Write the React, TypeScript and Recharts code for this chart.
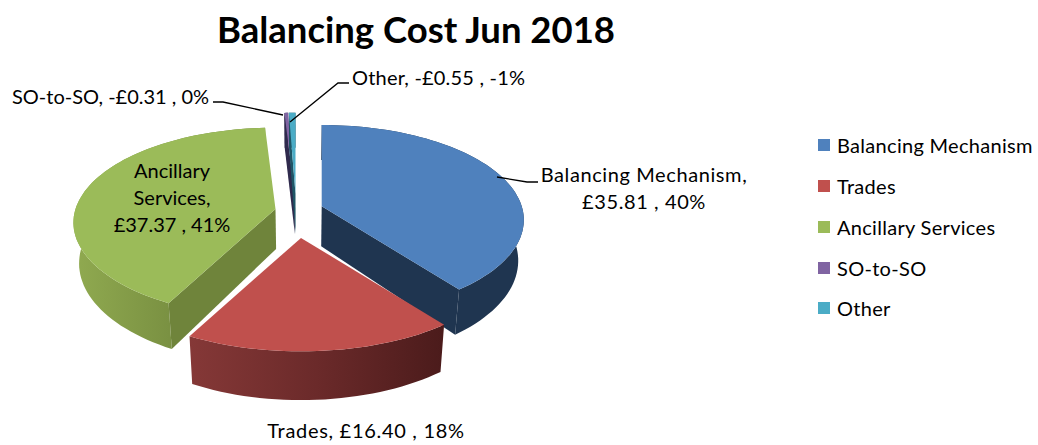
import React from "react";
import { PieChart, Pie, Legend } from "recharts";

const categories = ["Balancing Mechanism", "Trades", "Ancillary Services", "SO-to-SO", "Other"];
const costValues = [35.81, 16.4, 37.37, -0.31, -0.55];
const sharePercents = [40, 18, 41, 0, -1];
const topColors = ["#4f81bd", "#c0504d", "#9bbb59", "#8064a2", "#4bacc6"];
const wallColors = ["#1f3550", "#4d1c1c", "#6f843b", "#2f2a4d", "#1f5566"];
const wallGradients: string[][] = [
  ["#1f3550", "#1f3550", "#1f3550"],
  ["#853837", "#6b2a2a", "#4b1b1b"],
  ["#90aa50", "#7a9142", "#6d823a"],
  ["#2f2a4d", "#2f2a4d", "#2f2a4d"],
  ["#1f5566", "#1f5566", "#1f5566"],
];
const title = "Balancing Cost Jun 2018";

const formatCost = (v: number) => `${v < 0 ? "-" : ""}£${Math.abs(v).toFixed(2)}`;
const tableData = categories.map((name, i) => ({
  name,
  magnitude: Math.abs(costValues[i]),
  fill: topColors[i],
}));

const FONT = "Lato, 'Open Sans', sans-serif";
const CX = 299;
const CY = 214;
const RADIUS = 200;
const SQUASH = 93 / 200;
const PERSPECTIVE = 0.144;
const EXPLODE = 24;
const DEPTH = 40;
const BASE_SHRINK = 0.975;
const sliceNudges: [number, number][] = [[0, 0], [0, 0], [0, 0], [-3, 4], [-3, 4]];

const labelLayouts: { lines: (i: number) => string[]; x: number; y: number; anchor: string; spacing: number; leader?: [number, number][] }[] = [
  {
    lines: (i) => [`${categories[i]},`, `${formatCost(costValues[i])} , ${sharePercents[i]}%`],
    x: 644, y: 182, anchor: "middle", spacing: 0.6,
    leader: [[497, 177], [527, 182], [538, 182]],
  },
  {
    lines: (i) => [`${categories[i]},  ${formatCost(costValues[i])} , ${sharePercents[i]}%`],
    x: 366, y: 438, anchor: "middle", spacing: 0.7,
  },
  {
    lines: (i) => ["Ancillary", "Services,", `${formatCost(costValues[i])} , ${sharePercents[i]}%`],
    x: 172, y: 178, anchor: "middle", spacing: 0,
  },
  {
    lines: (i) => [`${categories[i]}, ${formatCost(costValues[i])} , ${sharePercents[i]}%`],
    x: 12, y: 104, anchor: "start", spacing: 0,
    leader: [[213, 102], [223, 102], [283, 115]],
  },
  {
    lines: (i) => [`${categories[i]}, ${formatCost(costValues[i])} , ${sharePercents[i]}%`],
    x: 352, y: 85, anchor: "start", spacing: 0.2,
    leader: [[349, 83], [338, 83], [290, 122]],
  },
];

const rad = (d: number) => (d * Math.PI) / 180;

function Slice3D(props: any) {
  const { cx, cy, outerRadius, startAngle, endAngle, payload, name } = props;
  const index = categories.indexOf(payload?.name ?? name);
  const t0 = 90 - startAngle;
  const t1 = 90 - endAngle;
  const mid = (t0 + t1) / 2;
  const [nx, ny] = sliceNudges[index];
  const ax = cx + EXPLODE * Math.sin(rad(mid)) + nx;
  const ay = cy - EXPLODE * Math.cos(rad(mid)) + ny;
  const bias = Math.max(0, -0.25 * Math.cos(rad(mid)));
  const top = (t: number, r: number) => {
    const u = r * Math.sin(rad(t));
    const v = -r * Math.cos(rad(t));
    const s = 1 / (1 - PERSPECTIVE * (v + bias));
    return {
      x: ax + outerRadius * u * s,
      y: ay + outerRadius * SQUASH * v * s,
      s,
    };
  };
  const base = (t: number, r: number) => {
    const p = top(t, r);
    return { x: cx + (p.x - cx) * BASE_SHRINK, y: p.y + DEPTH * p.s };
  };
  const steps = Math.max(2, Math.ceil((t1 - t0) / 2));
  const arcTs = Array.from({ length: steps + 1 }, (_, k) => t0 + ((t1 - t0) * k) / steps);
  const toPath = (pts: { x: number; y: number }[]) =>
    pts.map((p, k) => `${k ? "L" : "M"}${p.x.toFixed(1)},${p.y.toFixed(1)}`).join(" ") + " Z";

  const arcWall = toPath([...arcTs.map((t) => top(t, 1)), ...arcTs.slice().reverse().map((t) => base(t, 1))]);
  const wallA = toPath([top(t0, 0), top(t0, 1), base(t0, 1), base(t0, 0)]);
  const wallB = toPath([top(t1, 0), top(t1, 1), base(t1, 1), base(t1, 0)]);
  const face = toPath([top(t0, 0), ...arcTs.map((t) => top(t, 1))]);
  const gid = `wall-${index}`;
  const g = wallGradients[index];
  const showA = Math.sin(rad(t0)) < 0;
  const showB = Math.sin(rad(t1)) > 0;
  return (
    <g>
      <defs>
        <linearGradient id={gid} x1="0" y1="0" x2="1" y2="0">
          <stop offset="0%" stopColor={g[0]} />
          <stop offset="50%" stopColor={g[1]} />
          <stop offset="100%" stopColor={g[2]} />
        </linearGradient>
      </defs>
      <path d={arcWall} fill={`url(#${gid})`} />
      {showA && <path d={wallA} fill={wallColors[index]} />}
      {showB && <path d={wallB} fill={wallColors[index]} />}
      <path d={face} fill={topColors[index]} />
    </g>
  );
}

function renderLabel(props: any) {
  const i = props.index as number;
  const layout = labelLayouts[i];
  const lines = layout.lines(i);
  return (
    <g key={i}>
      {layout.leader && (
        <polyline
          points={layout.leader.map((p) => p.join(",")).join(" ")}
          fill="none"
          stroke="#000"
          strokeWidth={1.3}
        />
      )}
      <text
        x={layout.x}
        y={layout.y}
        textAnchor={layout.anchor as any}
        fontFamily={FONT}
        fontSize={20}
        letterSpacing={layout.spacing}
        fill="#000"
      >
        {lines.map((line, k) => (
          <tspan key={k} x={layout.x} dy={k ? 27 : 0}>
            {line}
          </tspan>
        ))}
      </text>
    </g>
  );
}

function LegendList(props: any) {
  const items = props.payload ?? [];
  return (
    <div style={{ fontFamily: FONT, fontSize: 20, letterSpacing: 0.3, color: "#000" }}>
      {items.map((item: any) => (
        <div
          key={item.value}
          style={{ height: 40.75, display: "flex", alignItems: "center", whiteSpace: "nowrap" }}
        >
          <span style={{ width: 12, height: 12, background: item.color, marginRight: 7, flex: "none" }} />
          <span>{item.value}</span>
        </div>
      ))}
    </div>
  );
}

export default function App() {
  return (
    <div style={{ position: "absolute", left: 0, top: 0, width: 1038, height: 445, background: "#fff" }}>
      <PieChart width={1038} height={445} margin={{ top: 0, right: 0, bottom: 0, left: 0 }}>
        <text x={416} y={43} textAnchor="middle" fontFamily={FONT} fontWeight={700} fontSize={36.5} fill="#000">
          {title}
        </text>
        <Pie
          data={tableData}
          dataKey="magnitude"
          nameKey="name"
          cx={CX}
          cy={CY}
          outerRadius={RADIUS}
          startAngle={90}
          endAngle={-270}
          stroke="none"
          isAnimationActive={false}
          shape={Slice3D}
          label={renderLabel}
          labelLine={false}
        />
        <Legend
          layout="vertical"
          itemSorter={null}
          content={LegendList}
          wrapperStyle={{ position: "absolute", left: 818, top: 125, width: 220 }}
        />
      </PieChart>
    </div>
  );
}
